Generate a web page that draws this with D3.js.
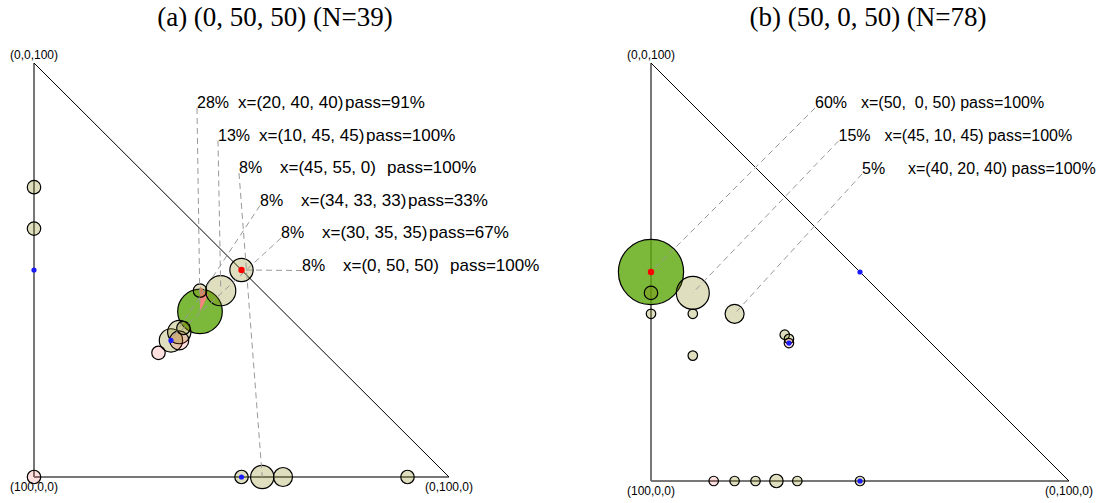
<!DOCTYPE html>
<html>
<head>
<meta charset="utf-8">
<script src="https://cdn.jsdelivr.net/npm/d3@7"></script>
<style>
  body { margin: 0; background: #fff; }
  text { font-family: "Liberation Sans", Arial, sans-serif; white-space: pre; }
  .title { font-family: "Liberation Serif", "DejaVu Serif", serif; font-size: 27px; }
</style>
</head>
<body>
<div id="chart"></div>
<script>

// ---- data: points are (a, b, c) shares, counts are samples, pass in %
var leftN = 39;
var leftTarget = [0, 50, 50];
var leftPoints = [[20,40,40],[10,45,45],[45,55,0],[34,33,33],[30,35,35],[0,50,50],
                  [40,60,0],[32,35,33],[30,0,70],[40,0,60],[100,0,0],[50,50,0],
                  [10,90,0],[15,40,45],[28,36,36],[40,30,30]];
var leftCounts = [11,5,3,3,3,3,2,2,1,1,1,1,1,1,1,1];
var leftPass   = [91,100,100,33,67,100,100,0,100,100,0,100,100,100,100,0];
var leftWedge  = [[20,40,40],[14,40,46],[14,42,44]];

var rightN = 78;
var rightTarget = [50, 0, 50];
var rightPoints = [[50,0,50],[45,10,45],[40,20,40],[55,0,45],[70,30,0],[60,0,40],
                   [50,10,40],[60,10,30],[33,32,35],[33,33,34],[34,33,33],[85,15,0],
                   [80,20,0],[75,25,0],[65,35,0],[50,50,0]];
var rightCounts = [47,12,4,2,2,1,1,1,1,1,1,1,1,1,1,1];
var rightPass   = [100,100,100,100,100,100,100,100,100,100,0,0,100,100,100,100];
var rightWedge  = [];

var refPoints = [[50,0,50],[0,50,50],[50,50,0],[34,33,33]];
var cornerLabels = ["(0,0,100)", "(100,0,0)", "(0,100,0)"];

var svg = d3.select("#chart").append("svg")
    .attr("width", 1096)
    .attr("height", 503);

var rScale = d3.scaleSqrt().domain([0, 100]).range([0, 42]);

var colors = { top: "rgba(91,166,9,0.8)", ok: "rgba(128,128,0,0.25)", fail: "rgba(255,0,0,0.12)" };

function drawPanel(p) {
  var x = d3.scaleLinear().domain([0, 100]).range([p.left, p.right]);
  var y = d3.scaleLinear().domain([0, 100]).range([p.bottom, p.top]);
  var g = svg.append("g");

  g.append("text").attr("class", "title")
    .attr("x", p.titleX).attr("y", 26)
    .attr("text-anchor", "middle")
    .text(p.title);

  // triangle: two gray legs and a thin hypotenuse
  g.append("line").attr("x1", x(0)).attr("y1", y(100)).attr("x2", x(0)).attr("y2", y(0))
    .style("stroke", "#555").style("stroke-width", 1.6);
  g.append("line").attr("x1", x(0)).attr("y1", y(0)).attr("x2", x(100)).attr("y2", y(0))
    .style("stroke", "#777").style("stroke-width", 2);
  g.append("line").attr("x1", x(0)).attr("y1", y(100)).attr("x2", x(100)).attr("y2", y(0))
    .style("stroke", "#000").style("stroke-width", 1);

  g.append("text").attr("x", x(0)).attr("y", y(100) - 4).attr("text-anchor", "middle")
    .style("font-size", "12px").text(cornerLabels[0]);
  g.append("text").attr("x", x(0)).attr("y", y(0) + 14).attr("text-anchor", "middle")
    .style("font-size", "12px").text(cornerLabels[1]);
  g.append("text").attr("x", x(100)).attr("y", y(0) + 14).attr("text-anchor", "middle")
    .style("font-size", "12px").text(cornerLabels[2]);

  var data = p.points.map(function(pt, i) {
    return { pt: pt, n: p.counts[i], pass: p.pass[i], i: i };
  });
  var maxN = d3.max(data, function(d) { return d.n; });
  data.forEach(function(d) {
    d.kind = d.n === maxN ? "top" : (d.pass === 0 ? "fail" : "ok");
  });
  var sorted = data.slice().sort(function(a, b) { return b.n - a.n; });

  var bubbles = g.append("g");
  bubbles.selectAll("circle.top")
      .data(sorted.filter(function(d) { return d.kind === "top"; }))
    .enter().append("circle")
      .attr("cx", function(d) { return x(d.pt[1]); })
      .attr("cy", function(d) { return y(d.pt[2]); })
      .attr("r", function(d) { return rScale(d.n / p.N * 100); })
      .style("fill", colors.top)
      .style("stroke", "#000").style("stroke-width", 1.2);

  if (p.wedge.length) {
    bubbles.append("path")
      .attr("d", d3.line()(p.wedge.map(function(w) { return [x(w[1]), y(w[2])]; })) + "Z")
      .style("fill", "#f4847c");
  }

  bubbles.selectAll("circle.rest")
      .data(sorted.filter(function(d) { return d.kind !== "top"; }))
    .enter().append("circle")
      .attr("cx", function(d) { return x(d.pt[1]); })
      .attr("cy", function(d) { return y(d.pt[2]); })
      .attr("r", function(d) { return rScale(d.n / p.N * 100); })
      .style("fill", function(d) { return colors[d.kind]; })
      .style("stroke", "#000").style("stroke-width", 1.2);

  // labels for the most frequent points
  var labelled = sorted.slice(0, p.nLabels);
  var rows = g.selectAll("g.row").data(labelled).enter().append("g");

  rows.append("line")
    .attr("x1", function(d, i) { return p.labX + i * p.labDx; })
    .attr("y1", function(d, i) { return p.labY + i * p.labDy; })
    .attr("x2", function(d) { return x(d.pt[1]); })
    .attr("y2", function(d) { return y(d.pt[2]); })
    .style("stroke", "#999").style("stroke-width", 1)
    .style("stroke-dasharray", "6,4");

  rows.append("text")
    .attr("x", function(d, i) { return p.labX + i * p.labDx; })
    .attr("y", function(d, i) { return p.labY + i * p.labDy; })
    .style("font-size", "16px")
    .text(function(d) { return Math.round(d.n / p.N * 100) + "%"; });

  rows.append("text")
    .attr("x", function(d, i) { return p.labX + i * p.labDx + p.xOff; })
    .attr("y", function(d, i) { return p.labY + i * p.labDy; })
    .style("font-size", p.fs + "px")
    .text(function(d) {
      var s = "x=(" + d.pt.map(function(v) { return p.passOff ? v : (v < 10 ? " " + v : v); }).join(", ") + ")";
      return p.passOff ? s : s + " pass=" + d.pass + "%";
    });

  if (p.passOff) {
    rows.append("text")
      .attr("x", function(d, i) { return p.labX + i * p.labDx + p.passOff; })
      .attr("y", function(d, i) { return p.labY + i * p.labDy; })
      .style("font-size", p.fs + "px")
      .text(function(d) { return "pass=" + d.pass + "%"; });
  }

  // reference corners and centre, target in red
  var key = p.target.join(",");
  g.selectAll("circle.ref").data(refPoints).enter().append("circle")
    .attr("cx", function(d) { return x(d[1]); })
    .attr("cy", function(d) { return y(d[2]); })
    .attr("r", function(d) { return d.join(",") === key ? 3.2 : 2.6; })
    .style("fill", function(d) { return d.join(",") === key ? "#f00" : "#1a1aff"; });
}

drawPanel({ title: "(a) (0, 50, 50) (N=39)", titleX: 275, N: leftN, target: leftTarget,
  points: leftPoints, counts: leftCounts, pass: leftPass, wedge: leftWedge,
  left: 34, right: 449, top: 63, bottom: 477, fs: 17,
  nLabels: 6, labX: 197, labY: 108, labDx: 21, labDy: 32.5, xOff: 41, passOff: 148 });

drawPanel({ title: "(b) (50, 0, 50) (N=78)", titleX: 868, N: rightN, target: rightTarget,
  points: rightPoints, counts: rightCounts, pass: rightPass, wedge: rightWedge,
  left: 651, right: 1069, top: 63, bottom: 481, fs: 16,
  nLabels: 3, labX: 815, labY: 108, labDx: 23.5, labDy: 33, xOff: 46, passOff: 0 });

</script>
</body>
</html>
